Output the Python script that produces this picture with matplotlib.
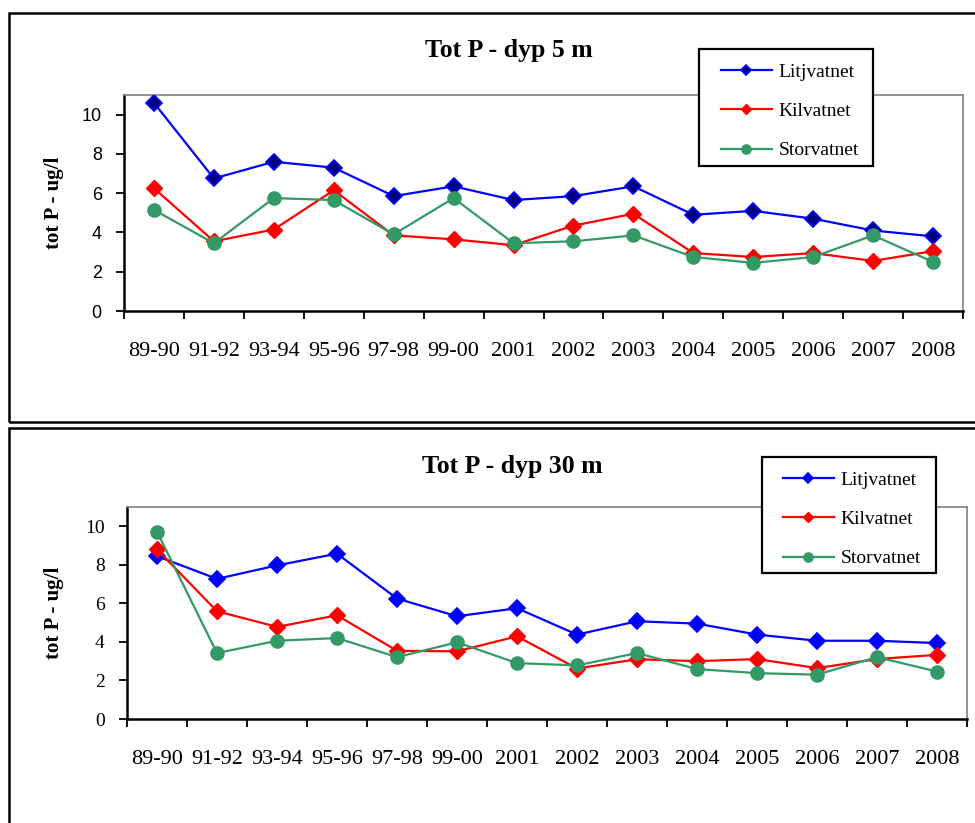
import matplotlib
matplotlib.use("Agg")
import matplotlib.pyplot as plt
from matplotlib.patches import Rectangle

categories = ['89-90', '91-92', '93-94', '95-96', '97-98', '99-00', '2001',
              '2002', '2003', '2004', '2005', '2006', '2007', '2008']

litj_5 = [10.6, 6.75, 7.6, 7.3, 5.85, 6.35, 5.65, 5.85, 6.35, 4.9, 5.1, 4.7, 4.1, 3.8]
kil_5 = [6.25, 3.55, 4.15, 6.15, 3.85, 3.65, 3.35, 4.35, 4.95, 2.95, 2.75, 2.95, 2.55, 3.05]
stor_5 = [5.15, 3.45, 5.75, 5.65, 3.9, 5.75, 3.45, 3.55, 3.85, 2.75, 2.45, 2.75, 3.85, 2.5]

litj_30 = [8.45, 7.27, 7.97, 8.58, 6.25, 5.33, 5.75, 4.38, 5.07, 4.95, 4.38, 4.06, 4.06, 3.94]
kil_30 = [8.8, 5.59, 4.78, 5.38, 3.54, 3.51, 4.29, 2.62, 3.1, 3.0, 3.11, 2.64, 3.11, 3.33]
stor_30 = [9.72, 3.42, 4.06, 4.2, 3.21, 3.98, 2.9, 2.78, 3.42, 2.59, 2.38, 2.3, 3.21, 2.46]

series_names = ['Litjvatnet', 'Kilvatnet', 'Storvatnet']
titles = ['Tot P - dyp 5 m', 'Tot P - dyp 30 m']
ylabel = 'tot P - ug/l'
yticks = [0, 2, 4, 6, 8, 10]

SERIF = 'Liberation Serif'
SANS = 'Liberation Sans'

W, H = 975, 823
fig = plt.figure(figsize=(W / 100, H / 100), dpi=100)


def fx(px):
    return px / W


def fy(py):
    return 1 - py / H


# outer chart-area boxes
fig.patches.append(Rectangle((fx(9), fy(422)), fx(990) - fx(9), fy(13) - fy(422),
                             transform=fig.transFigure, fill=False, ec='black', lw=1.8,
                             zorder=-5))
fig.patches.append(Rectangle((fx(9), fy(840)), fx(990) - fx(9), fy(428) - fy(840),
                             transform=fig.transFigure, fill=False, ec='black', lw=1.8,
                             zorder=-5))

panels = [
    dict(rect=(124, 95, 963, 311), data=(litj_5, kil_5, stor_5), title=titles[0],
         tpos=(509, 51), box=(699, 49, 873, 166), hx=721, row1=70,
         ytickfont=SANS, ytsize=13, litj_face='#000080'),
    dict(rect=(127, 507, 967, 719), data=(litj_30, kil_30, stor_30), title=titles[1],
         tpos=(512, 466), box=(762, 457, 936, 573), hx=783, row1=478,
         ytickfont=SERIF, ytsize=14, litj_face='#0000FF'),
]

x = list(range(len(categories)))

for p in panels:
    l, t, r, b = p['rect']
    ax = fig.add_axes([fx(l), fy(b), fx(r) - fx(l), fy(t) - fy(b)])
    litj, kil, stor = p['data']
    h1, = ax.plot(x, litj, color='#0000FF', lw=1.6, marker='D', ms=8,
                  mfc=p['litj_face'], mec='#0000FF', mew=1.2, zorder=3)
    h2, = ax.plot(x, kil, color='#FF0000', lw=1.6, marker='D', ms=8,
                  mfc='#FF0000', mec='#FF0000', zorder=3)
    h3, = ax.plot(x, stor, color='#339966', lw=1.6, marker='o', ms=9.5,
                  mfc='#339966', mec='#339966', zorder=3)
    ax.set_xlim(-0.5, len(categories) - 0.5)
    ax.set_ylim(0, 11)
    ax.set_yticks(yticks)
    ax.set_yticklabels([str(v) for v in yticks], fontfamily=p['ytickfont'],
                       fontsize=p['ytsize'])
    ax.set_xticks(x)
    ax.set_xticklabels(categories, fontfamily=SERIF, fontsize=16)
    ax.set_xticks([i - 0.5 for i in range(len(categories) + 1)], minor=True)
    ax.tick_params(axis='x', which='major', length=0, pad=22)
    ax.tick_params(axis='x', which='minor', length=6, width=1.3, direction='out')
    ax.tick_params(axis='y', which='major', length=6, width=1.3, direction='out', pad=10)
    for s in ['left', 'bottom']:
        ax.spines[s].set_color('black')
        ax.spines[s].set_linewidth(1.8)
    for s in ['top', 'right']:
        ax.spines[s].set_color('#808080')
        ax.spines[s].set_linewidth(1.2)
    ax.set_ylabel(ylabel, fontfamily=SERIF, fontweight='bold', fontsize=15)
    ax.yaxis.set_label_coords((64 - l) / (r - l), 0.5)
    fig.text(fx(p['tpos'][0]), fy(p['tpos'][1]), p['title'], ha='center', va='center',
             fontfamily=SERIF, fontweight='bold', fontsize=18.5)

    # legend frame
    bx0, by0, bx1, by1 = p['box']
    fig.patches.append(Rectangle((fx(bx0), fy(by1)), fx(bx1) - fx(bx0), fy(by0) - fy(by1),
                                 transform=fig.transFigure, fc='white', ec='black',
                                 lw=1.6, zorder=2))
    lg = fig.legend([h1, h2, h3], series_names, loc='upper left',
                    bbox_to_anchor=(fx(p['hx']), fy(p['row1'] - 7)),
                    bbox_transform=fig.transFigure, prop={'family': SERIF, 'size': 14},
                    frameon=False, borderaxespad=0, borderpad=0,
                    handlelength=2.6, handletextpad=0.35, labelspacing=1.12,
                    markerscale=0.7)
    lg.set_zorder(6)

fig.savefig('out.png', dpi=100)
